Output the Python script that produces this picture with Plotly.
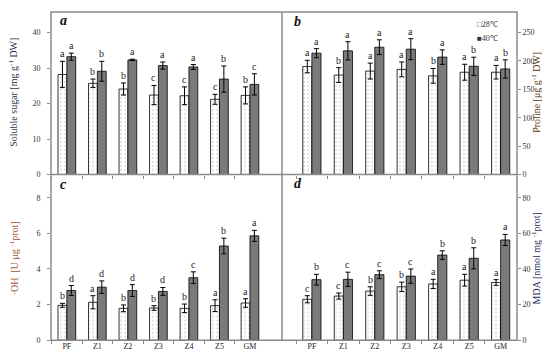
import plotly.graph_objects as go

categories = ["PF", "Z1", "Z2", "Z3", "Z4", "Z5", "GM"]

# Panel a: soluble sugar
sugar_28 = [28.2, 25.7, 24.1, 22.4, 22.2, 21.2, 22.3]
sugar_28_err = [3.7, 1.2, 1.7, 2.7, 2.5, 1.4, 2.4]
sugar_40 = [33.2, 29.1, 32.3, 30.7, 30.3, 26.9, 25.4]
sugar_40_err = [1.0, 2.8, 0.2, 1.0, 0.7, 3.7, 3.0]
sugar_28_let = ["a", "b", "b", "c", "c", "c", "b"]
sugar_40_let = ["a", "b", "a", "a", "a", "b", "c"]

# Panel b: proline
pro_28 = [190, 175, 182, 185, 173.6, 180, 180]
pro_28_err = [11, 13, 14, 13, 13, 14, 12]
pro_40 = [213.5, 217.6, 224, 220.5, 206.6, 190.4, 185.8]
pro_40_err = [8, 16, 13, 18.5, 12.7, 16, 16]
pro_28_let = ["a", "b", "a", "a", "b", "a", "a"]
pro_40_let = ["a", "a", "a", "a", "a", "b", "b"]

# Panel c: OH
oh_28 = [1.96, 2.13, 1.79, 1.81, 1.79, 1.94, 2.09]
oh_28_err = [0.11, 0.37, 0.19, 0.13, 0.24, 0.33, 0.24]
oh_40 = [2.79, 2.98, 2.79, 2.74, 3.51, 5.29, 5.86]
oh_40_err = [0.28, 0.35, 0.33, 0.22, 0.33, 0.44, 0.31]
oh_28_let = ["b", "a", "b", "b", "b", "a", "a"]
oh_40_let = ["d", "d", "d", "d", "c", "b", "a"]

# Panel d: MDA
mda_28 = [23.0, 24.8, 27.6, 30.0, 31.6, 33.7, 32.4]
mda_28_err = [2.0, 1.7, 2.4, 2.6, 2.6, 3.3, 1.6]
mda_40 = [34.0, 34.2, 36.8, 36.0, 47.8, 46.0, 56.3]
mda_40_err = [3.0, 4.0, 2.2, 4.0, 2.4, 5.9, 3.1]
mda_28_let = ["c", "c", "b", "b", "a", "a", "a"]
mda_40_let = ["b", "c", "c", "c", "b", "b", "a"]

xs = list(range(len(categories)))
SERIF = "Liberation Serif, Times New Roman, serif"
FRAME = "#8a8a8a"
DARK = "#7a7a7a"
HALF = 0.145

panels = [
    dict(x="x", y="y", d28=sugar_28, e28=sugar_28_err, d40=sugar_40, e40=sugar_40_err,
         l28=sugar_28_let, l40=sugar_40_let),
    dict(x="x2", y="y2", d28=pro_28, e28=pro_28_err, d40=pro_40, e40=pro_40_err,
         l28=pro_28_let, l40=pro_40_let),
    dict(x="x3", y="y3", d28=oh_28, e28=oh_28_err, d40=oh_40, e40=oh_40_err,
         l28=oh_28_let, l40=oh_40_let),
    dict(x="x4", y="y4", d28=mda_28, e28=mda_28_err, d40=mda_40, e40=mda_40_err,
         l28=mda_28_let, l40=mda_40_let),
]

fig = go.Figure()
annotations = []
for p in panels:
    fig.add_trace(go.Bar(
        x=xs, y=p["d28"], xaxis=p["x"], yaxis=p["y"], name="28℃", showlegend=False,
        marker=dict(color="white", line=dict(color="black", width=0.8),
                    pattern=dict(shape=".", fgcolor="#b4b4b4", bgcolor="white", size=4, solidity=0.2)),
        error_y=dict(type="data", array=p["e28"], color="black", thickness=1, width=2.5),
    ))
    fig.add_trace(go.Bar(
        x=xs, y=p["d40"], xaxis=p["x"], yaxis=p["y"], name="40℃", showlegend=False,
        marker=dict(color=DARK, line=dict(color="black", width=0.8)),
        error_y=dict(type="data", array=p["e40"], color="black", thickness=1, width=2.5),
    ))
    for i in xs:
        for off, vals, errs, lets in ((-HALF, p["d28"], p["e28"], p["l28"]),
                                      (HALF, p["d40"], p["e40"], p["l40"])):
            annotations.append(dict(
                x=i + off, y=vals[i] + errs[i], xref=p["x"], yref=p["y"],
                text=lets[i], showarrow=False, yanchor="bottom", yshift=0,
                font=dict(family=SERIF, size=10, color="#222")))

xL = [43 / 550, 274 / 550]
xR = [274 / 550, 509 / 550]
yT = [1 - 169 / 352, 1 - 4 / 352]
yB = [1 - 337 / 352, 1 - 169 / 352]

tickfont = dict(family=SERIF, size=8, color="#333")


def xax(domain, anchor, rng, labels):
    return dict(domain=domain, anchor=anchor, range=rng, showgrid=False, zeroline=False,
                showline=False, tickmode="array", tickvals=xs,
                ticktext=categories if labels else [""] * len(xs),
                ticks="", tickfont=dict(family=SERIF, size=8, color="#222"),
                minor=dict(tickmode="array", tickvals=[v + 0.5 for v in xs[:-1]] + [-0.5],
                           ticks="outside", ticklen=3, tickcolor=FRAME, tickwidth=1))


def yax(domain, anchor, rng, dtick, side, standoff):
    return dict(domain=domain, anchor=anchor, range=rng, side=side, dtick=dtick, tick0=0,
                showgrid=False, zeroline=False, showline=False, ticklabelstandoff=standoff,
                ticks="outside", ticklen=3, tickcolor=FRAME, tickfont=tickfont)


fig.update_layout(
    width=550, height=352, margin=dict(l=0, r=0, t=0, b=0),
    paper_bgcolor="white", plot_bgcolor="white",
    barmode="group", bargap=0.42, bargroupgap=0,
    showlegend=False,
    xaxis=xax(xL, "y", [-0.52, 7.05], False),
    xaxis2=xax(xR, "y2", [-0.95, 6.52], False),
    xaxis3=xax(xL, "y3", [-0.52, 7.05], True),
    xaxis4=xax(xR, "y4", [-0.95, 6.52], True),
    yaxis=yax(yT, "x", [0, 45.8], 10, "left", 5),
    yaxis2=yax(yT, "x2", [0, 286], 50, "right", 0),
    yaxis3=yax(yB, "x3", [0, 9.3], 2, "left", 5),
    yaxis4=yax(yB, "x4", [0, 93], 20, "right", 0),
)

shapes = [
    dict(type="rect", xref="paper", yref="paper", x0=xL[0], x1=xR[1], y0=yB[0], y1=yT[1],
         line=dict(color=FRAME, width=1.5)),
    dict(type="line", xref="paper", yref="paper", x0=xL[1], x1=xL[1], y0=yB[0], y1=yT[1],
         line=dict(color=FRAME, width=1.5)),
    dict(type="line", xref="paper", yref="paper", x0=xL[0], x1=xR[1], y0=yT[0], y1=yT[0],
         line=dict(color=FRAME, width=1.5)),
]

# axis titles (rotated text)
titles = [
    ("Soluble sugar [mg g<sup>-1</sup> DW]", 5, 86, "#2b3550"),
    ("Proline [μg g<sup>-1</sup> DW]", 528, 86, "#5a3a22"),
    ("·OH  [U μg <sup>-1</sup>prot]", 6, 254, "#a0522d"),
    ("MDA [nmol mg <sup>-1</sup>prot]", 528, 254, "#1f2f5f"),
]
for t, px, py, col in titles:
    annotations.append(dict(x=px / 550, y=1 - py / 352, xref="paper", yref="paper", text=t,
                            textangle=-90, showarrow=False, xanchor="center", yanchor="middle",
                            font=dict(family=SERIF, size=10, color=col)))

panel_letters = [("a", 55, 13), ("b", 289, 14), ("c", 55, 179), ("d", 290, 178)]
for t, px, py in panel_letters:
    annotations.append(dict(x=px / 550, y=1 - py / 352, xref="paper", yref="paper", text="<b><i>" + t + "</i></b>",
                            showarrow=False, xanchor="center", yanchor="middle",
                            font=dict(family=SERIF, size=14, color="#111")))

annotations.append(dict(x=467 / 550, y=1 - 17 / 352, xref="paper", yref="paper", text="□28℃",
                        showarrow=False, xanchor="left", yanchor="middle",
                        font=dict(family=SERIF, size=8, color="#333")))
annotations.append(dict(x=467 / 550, y=1 - 31 / 352, xref="paper", yref="paper", text="■40℃",
                        showarrow=False, xanchor="left", yanchor="middle",
                        font=dict(family=SERIF, size=8, color="#333")))

fig.update_layout(shapes=shapes, annotations=annotations)
fig.write_html("out.html")
